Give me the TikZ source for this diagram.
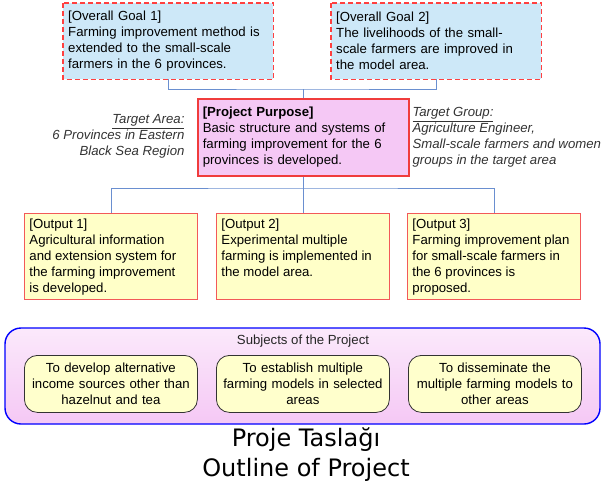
\documentclass[tikz,border=0pt]{standalone}
\usepackage{fontspec}
\setmainfont{Liberation Sans}
\newfontfamily\capfont{DejaVu Sans}
\usetikzlibrary{calc}

\definecolor{goalfill}{HTML}{CDE8F8}
\definecolor{purposefill}{HTML}{F5C8F5}
\definecolor{outfill}{HTML}{FFFFC8}
\definecolor{subjfill}{HTML}{FFFFCC}
\definecolor{linkblue}{HTML}{6A8FD0}
\definecolor{boxred}{HTML}{F03C3C}
\definecolor{notegray}{HTML}{333333}

% output text sits at the top of its box
\newcommand{\outtext}[1]{\parbox[c][76pt][t]{163pt}{\raggedright #1}}

\tikzset{
    bodytext/.style={font=\fontsize{13.2}{16}\selectfont, align=left, anchor=north west},
    goalbox/.style={bodytext, fill=goalfill, text width=200pt, inner xsep=5pt, inner ysep=5pt,
        minimum height=76pt},
    goalline/.style={draw=red!75, line width=1.3pt, dash pattern=on 5pt off 3pt},
    purposebox/.style={bodytext, draw=boxred, line width=1.5pt, fill=purposefill,
        text width=201pt, inner xsep=5pt, inner ysep=5pt, minimum height=77pt},
    outputbox/.style={bodytext, draw=boxred!85, line width=0.9pt, fill=outfill,
        inner xsep=5pt, inner ysep=5pt},
    subjbox/.style={draw=black!80, line width=0.8pt, fill=subjfill, rounded corners=13pt,
        font=\fontsize{13.2}{16}\selectfont, align=center, anchor=north west,
        text width=163pt, inner xsep=5pt, minimum height=57pt},
    notetext/.style={font=\fontsize{13.2}{16}\selectfont\itshape, text=notegray},
    link/.style={draw=linkblue, line width=0.9pt}
}

\begin{document}
\begin{tikzpicture}[x=1pt, y=-1pt]
    \useasboundingbox (0,0) rectangle (607,491);

    % goals
    \node[goalbox] (g1) at (63,3) {[Overall Goal 1]\\Farming improvement method is\\extended to the small-scale\\farmers in the 6 provinces.};
    \node[goalbox] (g2) at (331,3) {[Overall Goal 2]\\The livelihoods of the small-\\scale farmers are improved in\\the model area.};
    \draw[goalline] (g1.north west) rectangle (g1.south east);
    \draw[goalline] (g2.north west) rectangle (g2.south east);

    % purpose
    \node[purposebox] (pp) at (197,98) {\textbf{[Project Purpose]}\\Basic structure and systems of\\farming improvement for the 6\\provinces is developed.};

    \node[notetext, anchor=north east, align=right] (area) at (188,111) {\underline{Target Area:}\\6 Provinces in Eastern\\Black Sea Region};
    \node[notetext, anchor=north west, align=left] (group) at (409,104) {\underline{Target Group:}\\Agriculture Engineer,\\Small-scale farmers and women\\groups in the target area};

    % outputs
    \node[outputbox] (o1) at (24,213) {\outtext{[Output 1]\\Agricultural information\\and extension system for\\the farming improvement\\is developed.}};
    \node[outputbox] (o2) at (216,213) {\outtext{[Output 2]\\Experimental multiple\\farming is implemented in\\the model area.}};
    \node[outputbox] (o3) at (407,213) {\outtext{[Output 3]\\Farming improvement plan\\for small-scale farmers in\\the 6 provinces is\\proposed.}};

    % links
    \coordinate (jtop) at (303,89);
    \coordinate (jmid) at (303,188);
    \draw[link] (g1.south) |- (jtop) -| (g2.south);
    \draw[link] (jtop) -- (pp.north -| jtop);
    \draw[link] (pp.south -| jmid) -- (jmid);
    \draw[link] (o1.north) |- (jmid) -| (o3.north);
    \draw[link] (jmid) -- (o2.north -| jmid);

    % subjects
    \draw[blue, line width=1.4pt, rounded corners=16pt, top color=purposefill!40, bottom color=purposefill]
        (5,328) rectangle (600,424);
    \node[font=\fontsize{13.2}{16}\selectfont, text=black!85] (st) at (303,341) {Subjects of the Project};
    \node[subjbox] (s1) at (24,355) {To develop alternative\\income sources other than\\hazelnut and tea};
    \node[subjbox] (s2) at (216,355) {To establish multiple\\farming models in selected\\areas};
    \node[subjbox] (s3) at (408,355) {To disseminate the\\multiple farming models to\\other areas};

    % caption
    \node[font=\capfont\fontsize{24}{30}\selectfont, align=center] (cap) at (306,455) {Proje Taslağı\\Outline of Project};
\end{tikzpicture}
\end{document}
